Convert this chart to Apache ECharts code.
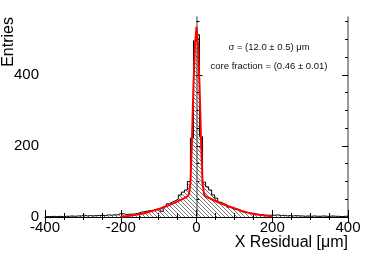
<!DOCTYPE html>
<html><head><meta charset="utf-8">
<script src="https://cdn.jsdelivr.net/npm/echarts/dist/echarts.min.js"></script>
<style>html,body{margin:0;padding:0;background:#fff}#c{width:374px;height:253px}</style>
</head><body><div id="c"></div>
<script>
// histogram: 100 bins of 8 um from -400 to 400
const binLow = -400;
const binWidth = 8;
const counts = [
  1,1,2,1,2,1,2,2,3,2,3,3,5,3,4,3,4,4,5,4,
  6,5,6,6,10,9,7,8,8,9,11,14,15,17,18,19,22,23,16,30,
  37,42,46,50,62,70,76,100,222,496,
  513,226,98,85,76,62,53,42,38,34,28,24,21,20,15,13,12,10,9,8,
  7,6,5,5,5,5,6,4,5,3,4,3,4,3,3,2,3,2,3,2,
  2,3,2,2,3,2,2,1,2,2
];
// fit curve points
const fitX = [-200,-180,-160,-140,-120,-100,-90,-80,-70,-60,-50,-40,-32,-28,-24,-20,-16,-12,-8,-4,0,4,8,12,16,20,24,28,32,40,50,60,70,80,90,100,120,140,160,180,200];
const fitY = [1,3,6,10,16,22,26,30,34,39,44,49,53,55,58,64,95,215,370,485,535,485,370,215,95,64,58,55,54,50,45,40,36,32,28,25,17,11,7,4,2];
const yMajor = [0,200,400];
const yMinor = [50,100,150,250,300,350,450,500,550];
const annotations = ['\u03c3 = (12.0 \u00b1 0.5) \u03bcm', 'core fraction = (0.46 \u00b1 0.01)'];
const xTitle = 'X Residual [\u03bcm]';
const yTitle = 'Entries';

const FONT = '"Liberation Sans", Arial, Helvetica, sans-serif';
const pat = document.createElement('canvas');
pat.width = 4; pat.height = 4;
const g = pat.getContext('2d');
g.strokeStyle = '#555'; g.lineWidth = 0.8;
g.beginPath();
g.moveTo(-1,-1); g.lineTo(5,5);
g.moveTo(-1,3); g.lineTo(1,5);
g.moveTo(3,-1); g.lineTo(5,1);
g.stroke();

const histData = counts.map((v,i)=>[binLow + i*binWidth, v]);
histData.push([binLow + counts.length*binWidth, counts[counts.length-1]]);
const fitData = fitX.map((x,i)=>[x, fitY[i]]);

const chart = echarts.init(document.getElementById('c'), null, {renderer:'canvas'});
const yBase = {type:'value', min:0, max:563, splitLine:{show:false}};
const xBase = {type:'value', min:-400, max:400, interval:200, splitLine:{show:false}};
chart.setOption({
  animation:false,
  grid:{left:45, right:26, top:17, bottom:36},
  xAxis:[
    Object.assign({}, xBase, {position:'bottom',
      axisLine:{lineStyle:{color:'#000', width:1}},
      axisTick:{inside:true, length:7, lineStyle:{color:'#000'}},
      minorTick:{show:true, splitNumber:4, length:4, lineStyle:{color:'#000'}},
      axisLabel:{fontSize:15, color:'#000', margin:3, fontFamily:FONT}}),
    Object.assign({}, xBase, {position:'top',
      axisLine:{lineStyle:{color:'#000', width:1}},
      axisTick:{inside:true, length:6, lineStyle:{color:'#000'}},
      minorTick:{show:true, splitNumber:4, length:3, lineStyle:{color:'#000'}},
      axisLabel:{show:false}})
  ],
  yAxis:[
    Object.assign({}, yBase, {position:'left',
      axisLine:{show:true, lineStyle:{color:'#777', width:1.5}},
      axisTick:{show:true, inside:true, length:6, customValues:yMajor, lineStyle:{color:'#000'}},
      axisLabel:{customValues:yMajor, fontSize:15, color:'#000', margin:6, fontFamily:FONT}}),
    Object.assign({}, yBase, {position:'left',
      axisLine:{show:false},
      axisTick:{show:true, inside:true, length:3, customValues:yMinor, lineStyle:{color:'#000'}},
      axisLabel:{show:false}}),
    Object.assign({}, yBase, {position:'right',
      axisLine:{show:true, lineStyle:{color:'#777', width:1.5}},
      axisTick:{show:true, inside:true, length:6, customValues:yMajor, lineStyle:{color:'#000'}},
      axisLabel:{show:false}}),
    Object.assign({}, yBase, {position:'right',
      axisLine:{show:false},
      axisTick:{show:true, inside:true, length:3, customValues:yMinor, lineStyle:{color:'#000'}},
      axisLabel:{show:false}})
  ],
  series:[
    {type:'line', step:'end', data:histData, symbol:'none', xAxisIndex:0, yAxisIndex:0,
     lineStyle:{color:'#000', width:1}, areaStyle:{color:{image:pat, repeat:'repeat'}, opacity:1}, z:2},
    {type:'line', data:fitData, symbol:'none', xAxisIndex:0, yAxisIndex:0,
     lineStyle:{color:'#ff0000', width:2}, z:3}
  ],
  graphic:[
    {type:'text', x:9, y:17, rotation:Math.PI/2,
     style:{text:yTitle, fontSize:16, fontFamily:FONT, fill:'#000', align:'right', verticalAlign:'middle'}},
    {type:'text', x:348, y:243,
     style:{text:xTitle, fontSize:16, fontFamily:FONT, fill:'#000', align:'right', verticalAlign:'middle'}},
    {type:'text', x:269, y:47,
     style:{text:annotations[0], fontSize:9.5, fontFamily:FONT, fill:'#111', align:'center', verticalAlign:'middle'}},
    {type:'text', x:269, y:66,
     style:{text:annotations[1], fontSize:9.5, fontFamily:FONT, fill:'#111', align:'center', verticalAlign:'middle'}}
  ]
});
</script>
</body></html>
